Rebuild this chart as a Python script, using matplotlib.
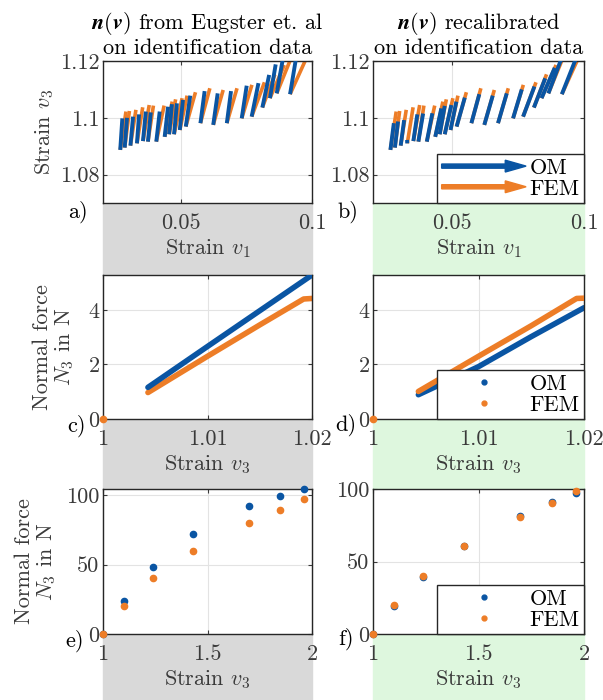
import matplotlib
matplotlib.use('Agg')
import matplotlib.pyplot as plt
import matplotlib.patches as mpatches
from matplotlib.lines import Line2D
from matplotlib.legend_handler import HandlerPatch
import numpy as np

plt.rcParams['font.family'] = 'serif'
plt.rcParams['font.serif'] = ['cmr10']
plt.rcParams['mathtext.fontset'] = 'cm'
plt.rcParams['axes.unicode_minus'] = False
plt.rcParams['axes.formatter.use_mathtext'] = True

BLUE = '#0a55a3'
ORANGE = '#ed7d27'
GRAY_TXT = '#3a3a3a'
FS = 16

# --- quiver data (identification data), base points in (v1, v3)
v1_base = [0.0266, 0.0283, 0.0305, 0.0330, 0.0353, 0.0372, 0.0404, 0.0436, 0.0453, 0.0472, 0.0494,
           0.0517, 0.0573, 0.0622, 0.0674, 0.0731, 0.0769, 0.0810, 0.0839, 0.0865, 0.0916]
v3_base = [1.0887, 1.0895, 1.0902, 1.0910, 1.0918, 1.0916, 1.0916, 1.0933, 1.0942, 1.0942, 1.0957,
           1.0969, 1.0981, 1.0975, 1.0981, 1.0998, 1.1004, 1.1036, 1.1069, 1.1086, 1.1083]
# arrow tips FEM
v1_fem = [0.0288, 0.0301, 0.0326, 0.0352, 0.0377, 0.0393, 0.0434, 0.0465, 0.0478, 0.0503, 0.0522,
          0.0554, 0.0609, 0.0660, 0.0713, 0.0770, 0.0818, 0.0858, 0.0894, 0.0918, 0.0975]
v3_fem = [1.1022, 1.1024, 1.1028, 1.1037, 1.1045, 1.1043, 1.1043, 1.1057, 1.1065, 1.1069, 1.1078,
          1.1090, 1.1104, 1.1098, 1.1104, 1.1116, 1.1125, 1.1153, 1.1186, 1.1206, 1.1203]
# arrow tips OM (Eugster et al.)
v1_om_a = [0.0274, 0.0292, 0.0315, 0.0338, 0.0364, 0.0383, 0.0417, 0.0449, 0.0464, 0.0483, 0.0506,
           0.0534, 0.0589, 0.0639, 0.0690, 0.0750, 0.0795, 0.0836, 0.0861, 0.0888, 0.0938]
v3_om_a = [1.0998, 1.1000, 1.1004, 1.1012, 1.1022, 1.1019, 1.1022, 1.1039, 1.1048, 1.1051, 1.1063,
           1.1078, 1.1094, 1.1086, 1.1094, 1.1113, 1.1122, 1.1151, 1.1188, 1.1205, 1.1205]
# arrow tips OM (recalibrated)
v1_om_b = [0.0279, 0.0295, 0.0318, 0.0329, 0.0368, 0.0390, 0.0425, 0.0459, 0.0472, 0.0497, 0.0516,
           0.0548, 0.0603, 0.0654, 0.0707, 0.0764, 0.0812, 0.0853, 0.0889, 0.0913, 0.0968]
v3_om_b = [1.0981, 1.0987, 1.0992, 1.0922, 1.1012, 1.1015, 1.1016, 1.1033, 1.1042, 1.1045, 1.1057,
           1.1071, 1.1083, 1.1078, 1.1086, 1.1100, 1.1110, 1.1139, 1.1176, 1.1205, 1.1205]

# --- normal force on identification data
v3_id = [1.0, 1.0043, 1.0100, 1.0150, 1.0200]
N3_om_a_id = [0.0, 1.16, 2.66, 3.97, 5.28]
N3_om_b_id = [0.0, 0.89, 1.92, 3.02, 4.08]
v3_fem_id = [1.0, 1.0043, 1.0100, 1.0150, 1.0192, 1.0200]
N3_fem_id = [0.0, 0.97, 2.30, 3.45, 4.40, 4.42]
v3_fem_id_b = [1.0, 1.0043, 1.0100, 1.0150, 1.0193, 1.0200]
N3_fem_id_b = [0.0, 1.01, 2.30, 3.42, 4.42, 4.43]

# --- normal force on large strains
v3_big = [1.0, 1.10, 1.238, 1.432, 1.697, 1.847, 1.962]
N3_fem_big = [0.0, 20.0, 40.1, 59.7, 79.7, 89.6, 97.3]
N3_om_a_big = [0.0, 23.9, 48.0, 72.0, 92.3, 99.8, 104.3]
N3_fem_big_b = [0.0, 20.1, 40.3, 60.4, 80.5, 90.5, 98.4]
N3_om_b_big = [0.0, 19.0, 39.1, 60.4, 81.7, 90.7, 97.0]

W, H = 603, 700
fig = plt.figure(figsize=(W / 100, H / 100), dpi=100)


def px_rect(x0, y0, x1, y1):
    return [x0 / W, 1 - y1 / H, (x1 - x0) / W, (y1 - y0) / H]


# shaded column backgrounds
fig.add_artist(mpatches.Rectangle((103 / W, 0), 209 / W, 497 / H, transform=fig.transFigure,
                                  color='#d9d9d9', zorder=-5))
fig.add_artist(mpatches.Rectangle((373 / W, 0), 211 / W, 497 / H, transform=fig.transFigure,
                                  color='#def7de', zorder=-5))

ax_a = fig.add_axes(px_rect(103, 61, 312, 203))
ax_b = fig.add_axes(px_rect(373, 61, 584, 203))
ax_c = fig.add_axes(px_rect(103, 275, 312, 419))
ax_d = fig.add_axes(px_rect(373, 275, 584, 419))
ax_e = fig.add_axes(px_rect(103, 489, 312, 634))
ax_f = fig.add_axes(px_rect(373, 489, 584, 634))


def style(ax):
    ax.grid(True, color='#e3e3e3', lw=0.8)
    ax.set_axisbelow(True)
    ax.tick_params(direction='in', length=3, width=0.8, top=True, right=True,
                   labelsize=FS, colors=GRAY_TXT)
    ax.tick_params(axis='x', pad=7.5)
    ax.tick_params(axis='y', pad=2.5)
    for s in ax.spines.values():
        s.set_color('#262626')
        s.set_linewidth(1.0)


def segments(ax, x0, y0, x1, y1, color, lw, z):
    for a, b, c, d in zip(x0, y0, x1, y1):
        ax.plot([a, c], [b, d], color=color, lw=lw, solid_capstyle='butt', zorder=z)


# a) and b): arrows in strain space
segments(ax_a, v1_base, v3_base, v1_fem, v3_fem, ORANGE, 2.6, 2)
segments(ax_a, v1_base, v3_base, v1_om_a, v3_om_a, BLUE, 2.8, 3)
segments(ax_b, v1_base, v3_base, v1_fem, v3_fem, ORANGE, 2.6, 2)
segments(ax_b, v1_base, v3_base, v1_om_b, v3_om_b, BLUE, 2.8, 3)

for ax in (ax_a, ax_b):
    ax.set_xlim(0.02, 0.1)
    ax.set_ylim(1.07, 1.12)
    ax.set_xticks([0.05, 0.1])
    ax.set_xticklabels(['0.05', '0.1'])
    ax.set_yticks([1.08, 1.1, 1.12])
    ax.set_yticklabels(['1.08', '1.1', '1.12'])
    ax.set_xlabel('Strain $v_1$', fontsize=FS, color=GRAY_TXT, labelpad=3)
    style(ax)
ax_a.set_ylabel('Strain $v_3$', fontsize=FS, color=GRAY_TXT, labelpad=3)


def make_arrow(legend, orig_handle, xdescent, ydescent, width, height, fontsize):
    return mpatches.FancyArrow(0, 0.5 * height, width, 0, width=3.0, head_width=8.5,
                               head_length=15, length_includes_head=True)


arrow_handles = [mpatches.Patch(color=BLUE, label='OM'), mpatches.Patch(color=ORANGE, label='FEM')]
leg = ax_b.legend(handles=arrow_handles, loc='lower right', fontsize=FS, borderaxespad=0,
                  fancybox=False, edgecolor='#262626', framealpha=1, handlelength=3.8,
                  handletextpad=0.15, labelspacing=0.05, borderpad=0.2,
                  handler_map={mpatches.Patch: HandlerPatch(patch_func=make_arrow)})
leg.get_frame().set_linewidth(1.0)

# c) and d): normal force on identification data
ax_c.plot(v3_fem_id[1:], N3_fem_id[1:], color=ORANGE, lw=4.0, solid_capstyle='round', zorder=2)
ax_c.plot(v3_id[1:], N3_om_a_id[1:], color=BLUE, lw=4.0, solid_capstyle='round', zorder=3)
ax_c.plot(v3_fem_id[:1], N3_fem_id[:1], 'o', color=ORANGE, ms=4.5, clip_on=False, zorder=4)

ax_d.plot(v3_id[1:], N3_om_b_id[1:], color=BLUE, lw=4.0, solid_capstyle='round', zorder=2)
ax_d.plot(v3_fem_id_b[1:], N3_fem_id_b[1:], color=ORANGE, lw=4.0, solid_capstyle='round', zorder=3)
ax_d.plot(v3_fem_id_b[:1], N3_fem_id_b[:1], 'o', color=ORANGE, ms=4.5, clip_on=False, zorder=4)

for ax in (ax_c, ax_d):
    ax.set_xlim(1, 1.02)
    ax.set_ylim(0, 5.28)
    ax.set_xticks([1, 1.01, 1.02])
    ax.set_xticklabels(['1', '1.01', '1.02'])
    ax.set_yticks([0, 2, 4])
    ax.set_yticklabels(['0', '2', '4'])
    ax.set_xlabel('Strain $v_3$', fontsize=FS, color=GRAY_TXT, labelpad=3)
    style(ax)
ax_c.set_ylabel('Normal force\n$N_3$ in N', fontsize=FS, color=GRAY_TXT, labelpad=9,
                linespacing=1.05)

# e) and f): normal force on large strains
ax_e.plot(v3_big, N3_om_a_big, 'o', color=BLUE, ms=4.5, clip_on=False, zorder=3)
ax_e.plot(v3_big, N3_fem_big, 'o', color=ORANGE, ms=4.5, clip_on=False, zorder=4)
ax_f.plot(v3_big, N3_om_b_big, 'o', color=BLUE, ms=4.5, clip_on=False, zorder=3)
ax_f.plot(v3_big, N3_fem_big_b, 'o', color=ORANGE, ms=4.5, clip_on=False, zorder=4)

ax_e.set_ylim(0, 104.5)
ax_f.set_ylim(0, 100)
for ax in (ax_e, ax_f):
    ax.set_xlim(1, 2)
    ax.set_xticks([1, 1.5, 2])
    ax.set_xticklabels(['1', '1.5', '2'])
    ax.set_yticks([0, 50, 100])
    ax.set_yticklabels(['0', '50', '100'])
    ax.set_xlabel('Strain $v_3$', fontsize=FS, color=GRAY_TXT, labelpad=3)
    style(ax)
ax_e.set_ylabel('Normal force\n$N_3$ in N', fontsize=FS, color=GRAY_TXT, labelpad=6,
                linespacing=1.05)

dot_handles = [Line2D([], [], ls='none', marker='o', ms=3.5, color=BLUE, label='OM'),
               Line2D([], [], ls='none', marker='o', ms=3.5, color=ORANGE, label='FEM')]
for ax in (ax_d, ax_f):
    lg = ax.legend(handles=dot_handles, loc='lower right', fontsize=FS, borderaxespad=0,
                   fancybox=False, edgecolor='#262626', framealpha=1, handlelength=3.8,
                   handletextpad=0.15, labelspacing=0.05, borderpad=0.2)
    lg.get_frame().set_linewidth(1.0)

# titles
ax_a.set_title('$\\mathbfit{n}(\\mathbfit{v})$ from Eugster et. al\non identification data',
               fontsize=FS, pad=5, linespacing=1.1)
ax_b.set_title('$\\mathbfit{n}(\\mathbfit{v})$ recalibrated\non identification data',
               fontsize=FS, pad=5, linespacing=1.1)

# panel letters
for lbl, x, y in [('a)', 78, 212), ('b)', 348, 212), ('c)', 76, 426),
                  ('d)', 346, 425), ('e)', 75, 641), ('f)', 346, 639)]:
    fig.text(x / W, 1 - y / H, lbl, fontsize=FS, ha='center', va='center')

plt.savefig('out.png', dpi=100)
